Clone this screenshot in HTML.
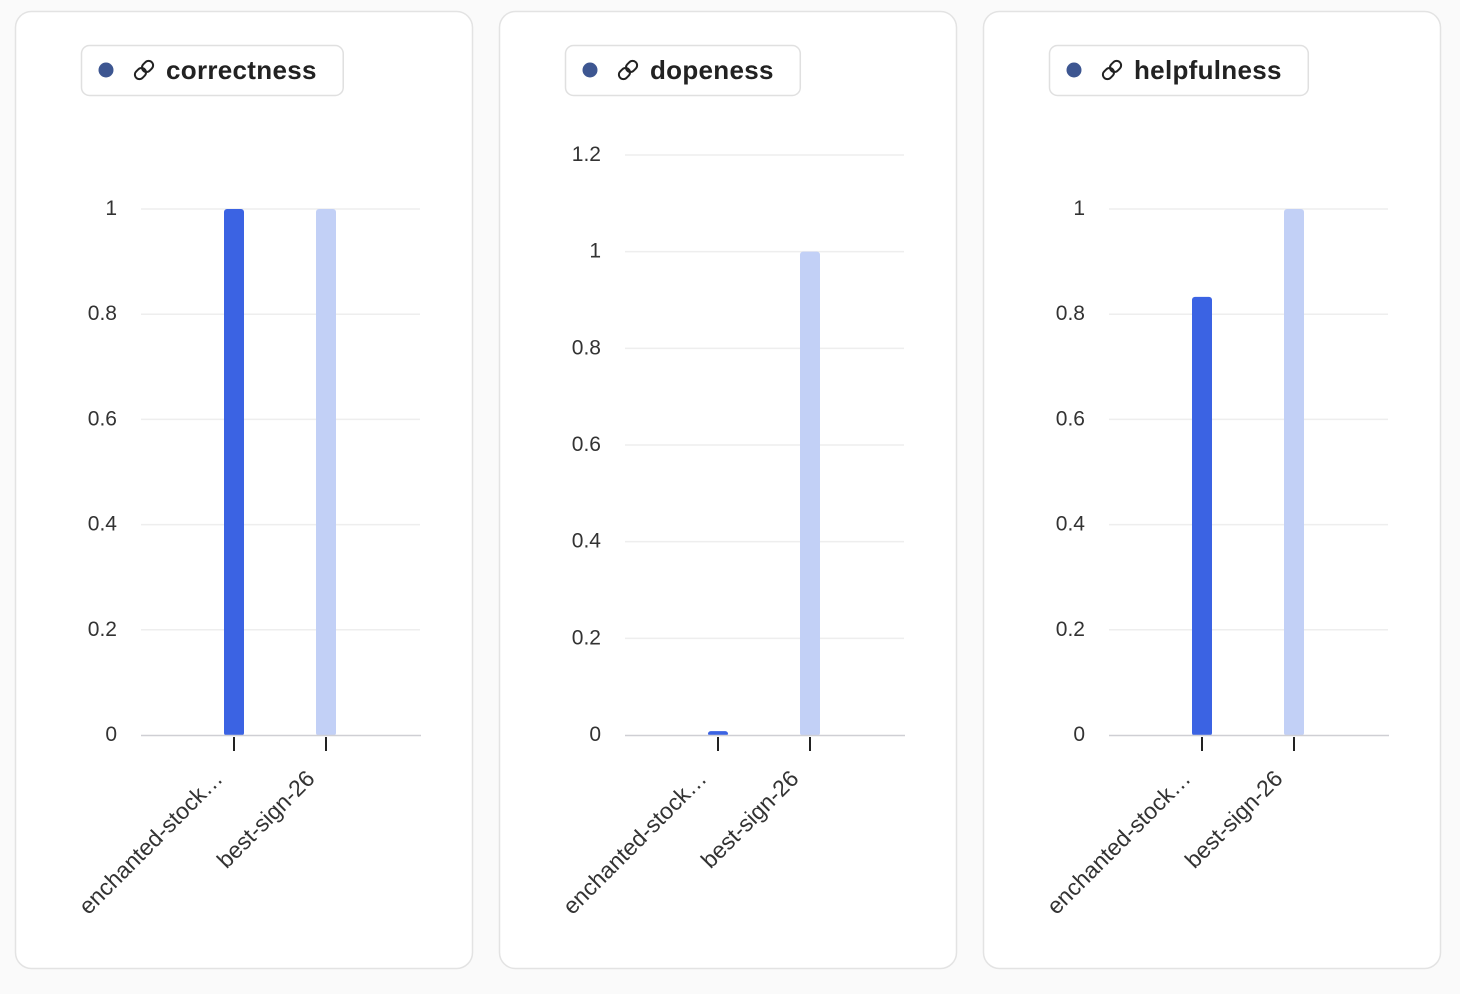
<!DOCTYPE html>
<html><head><meta charset="utf-8"><style>
body{margin:0;width:1460px;height:994px;background:#fafafa;font-family:"Liberation Sans",Arial,sans-serif;overflow:hidden}
svg{position:absolute;left:0;top:0}
</style></head><body>
<svg id="chart" width="1460" height="994"></svg>
<script>
const metrics=["correctness","dopeness","helpfulness"];
const categories=["enchanted-stock…","best-sign-26"];
const valuesCorrectness=[1,1];
const valuesDopeness=[0.008,1];
const valuesHelpfulness=[0.833,1];
const maxes=[1,1.2,1];
const ticksA=["0","0.2","0.4","0.6","0.8","1"];
const ticksB=["0","0.2","0.4","0.6","0.8","1","1.2"];
const allValues=[valuesCorrectness,valuesDopeness,valuesHelpfulness];
const allTicks=[ticksA,ticksB,ticksA];
const NS="http://www.w3.org/2000/svg";
const svg=document.getElementById('chart');
function mk(t,a,p){const e=document.createElementNS(NS,t);for(const k in a)e.setAttribute(k,a[k]);(p||svg).appendChild(e);return e;}
const colors=["#3b63e3","#c2d0f6"];
metrics.forEach((m,i)=>{
  const ox=i*484;
  const g=mk('g',{});
  
  
  mk('rect',{x:15.5+ox,y:11.5,width:457,height:957,rx:16,fill:'#fff',stroke:'#e3e3e3','stroke-width':1.5},g);
  const lg=mk('g',{},g);
  
  
  const pill=mk('rect',{x:81.5+ox,y:45.5,width:200,height:50,rx:8,fill:'#fff',stroke:'#e0e0e0','stroke-width':1.5},lg);
  mk('circle',{cx:106+ox,cy:70,r:7.5,fill:'#3d5691'},lg);
  const ic=mk('g',{transform:`translate(${144+ox},70) rotate(-45)`,fill:'none',stroke:'#222','stroke-width':2},lg);
  mk('rect',{x:-11,y:-4.5,width:12,height:9,rx:4.5},ic);
  mk('rect',{x:-1,y:-4.5,width:12,height:9,rx:4.5},ic);
  const t=mk('text',{x:166+ox,y:79,'font-size':26,'font-weight':'bold',fill:'#222','letter-spacing':0.3},lg);t.textContent=m;
  const tl=t.getComputedTextLength();
  pill.setAttribute('width',(166+tl+26)-81);
  const x0=141+ox,x1=420+ox,y0=735,max=maxes[i];
  const topY=i===1?155:209;
  const ys=v=>y0-v/max*(y0-topY);
  allTicks[i].forEach(tk=>{
    const y=ys(parseFloat(tk));
    if(tk!=="0"){mk('line',{x1:x0,x2:x1,y1:y,y2:y,stroke:'#eeeeee','stroke-width':1.5},g);}
    const tt=mk('text',{x:117+ox,y:y+6,'font-size':21,fill:'#333','text-anchor':'end'},g);tt.textContent=tk;
    
  });
  const xs=j=>234+ox+j*92;
  allValues[i].forEach((v,j)=>{
    const top=ys(v),h=Math.max(y0-top,3);
    const b=mk('rect',{x:xs(j)-10,y:y0-h,width:20,height:h+1,rx:3,fill:colors[j]},g);
    
    
  });
  mk('line',{x1:x0,x2:x1+1,y1:y0+0.5,y2:y0+0.5,stroke:'#cfcfd4','stroke-width':1.5},g);
  categories.forEach((c,j)=>{
    mk('line',{x1:xs(j),x2:xs(j),y1:y0+2,y2:y0+16,stroke:'#222','stroke-width':2},g);
    const xl=mk('text',{transform:`translate(${xs(j)-10},${y0+45}) rotate(-45)`,'font-size':23,fill:'#333','text-anchor':'end'},g);
    xl.textContent=c;
    
  });
});
</script>
</body></html>
